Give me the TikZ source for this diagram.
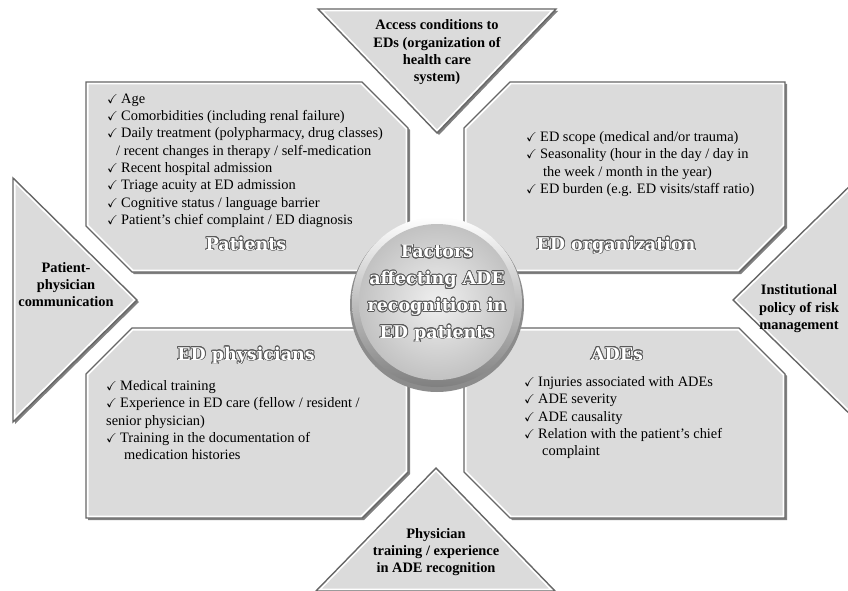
\documentclass[tikz,border=0pt]{standalone}
\usepackage{amssymb}
\usepackage{fontspec}
\setmainfont{Liberation Serif}
\newfontfamily\titlefont{DejaVu Serif}
\usepackage[copies]{contour}
\usetikzlibrary{shadows}

\contourlength{0.8pt}
\contournumber{16}

\newcommand\tick{\makebox[14pt][l]{\scalebox{0.9}{$\checkmark$}}}
\newcommand\outl[1]{\contour{black!65}{#1}}
\newcommand\bevelshape[1]{%
  \fill[shapeshadow] #1;
  \fill[shapefill] #1;
  \begin{scope}
    \clip #1;
    \draw[white, line width=5pt] #1;
  \end{scope}
  \draw[shapeedge] #1;
}

\begin{document}
\begin{tikzpicture}[x=1pt, y=-1pt,
  listtext/.style={anchor=north west, inner sep=0pt, align=left,
    font=\fontsize{14.4}{17.3}\selectfont},
  sidetext/.style={anchor=north, inner sep=0pt, align=center,
    font=\bfseries\fontsize{14.4}{17.4}\selectfont},
  boxtitle/.style={anchor=base, inner sep=0pt, text=white,
    font=\titlefont\bfseries\fontsize{17.5}{26.7}\selectfont},
  shapefill/.style={fill=black!14},
  shapeedge/.style={draw=black!60, line width=1.4pt, line join=miter},
  shapeshadow/.style={fill=black!50, xshift=2pt, yshift=-2pt}]
  \useasboundingbox (0,0) rectangle (848,591);
  \clip (0,0) rectangle (848,591);

  % Outer triangles
  \bevelshape{(318,9) -- (556,9) -- (437,133) -- cycle}
  \bevelshape{(13,178) -- (137,300) -- (13,422) -- cycle}
  \bevelshape{(858,178) -- (858,422) -- (733,300) -- cycle}
  \bevelshape{(316,591) -- (436,468) -- (555,591) -- cycle}

  % Four boxes
  \bevelshape{(86,82) -- (362,82) -- (408,128) -- (408,272) -- (132,272) -- (86,226) -- cycle}
  \bevelshape{(510,82) -- (785,82) -- (785,226) -- (739,272) -- (464,272) -- (464,128) -- cycle}
  \bevelshape{(132,328) -- (408,328) -- (408,472) -- (362,518) -- (86,518) -- (86,374) -- cycle}
  \bevelshape{(464,328) -- (739,328) -- (785,374) -- (785,518) -- (510,518) -- (464,472) -- cycle}

  % Centre disc
  \fill[black!45] (437,305) circle (87);
  \shade[top color=white, bottom color=black!50] (437,302) circle (85);
  \shade[inner color=black!6, outer color=black!24] (437,302) circle (78);

  % Triangle texts
  \node[sidetext] (access) at (437,19.5)
    {Access conditions to\\EDs (organization of\\health care\\system)};
  \node[sidetext] (communication) at (66,262)
    {Patient-\\physician\\communication};
  \node[sidetext] (policy) at (799,284.5)
    {Institutional\\policy of risk\\management};
  \node[sidetext] (training) at (436,528)
    {Physician\\training / experience\\in ADE recognition};

  % Box lists
  \node[listtext] (patientsList) at (107,93.5)
    {\tick Age\\
     \tick Comorbidities (including renal failure)\\
     \tick Daily treatment (polypharmacy, drug classes)\\
     \hspace*{9pt}/ recent changes in therapy / self-medication\\
     \tick Recent hospital admission\\
     \tick Triage acuity at ED admission\\
     \tick Cognitive status / language barrier\\
     \tick Patient’s chief complaint / ED diagnosis};
  \node[listtext] (organizationList) at (526,131.5)
    {\tick ED scope (medical and/or trauma)\\
     \tick Seasonality (hour in the day / day in\\
     \hspace*{17pt}the week / month in the year)\\
     \tick ED burden (e.g. ED visits/staff ratio)};
  \node[listtext] (physiciansList) at (106,380.5)
    {\tick Medical training\\
     \tick Experience in ED care (fellow / resident /\\
     senior physician)\\
     \tick Training in the documentation of\\
     \hspace*{18pt}medication histories};
  \node[listtext] (adesList) at (524,376.5)
    {\tick Injuries associated with ADEs\\
     \tick ADE severity\\
     \tick ADE causality\\
     \tick Relation with the patient’s chief\\
     \hspace*{18pt}complaint};

  % Box titles
  \node[boxtitle] (patientsTitle) at (246,250) {\outl{Patients}};
  \node[boxtitle] (organizationTitle) at (616,250) {\outl{ED organization}};
  \node[boxtitle] (physiciansTitle) at (246,360) {\outl{ED physicians}};
  \node[boxtitle] (adesTitle) at (617,360) {\outl{ADEs}};

  % Centre text
  \node[boxtitle, anchor=north, align=center] (centreTitle) at (437,245)
    {\outl{Factors}\\\outl{affecting ADE}\\\outl{recognition in}\\\outl{ED patients}};
\end{tikzpicture}
\end{document}
